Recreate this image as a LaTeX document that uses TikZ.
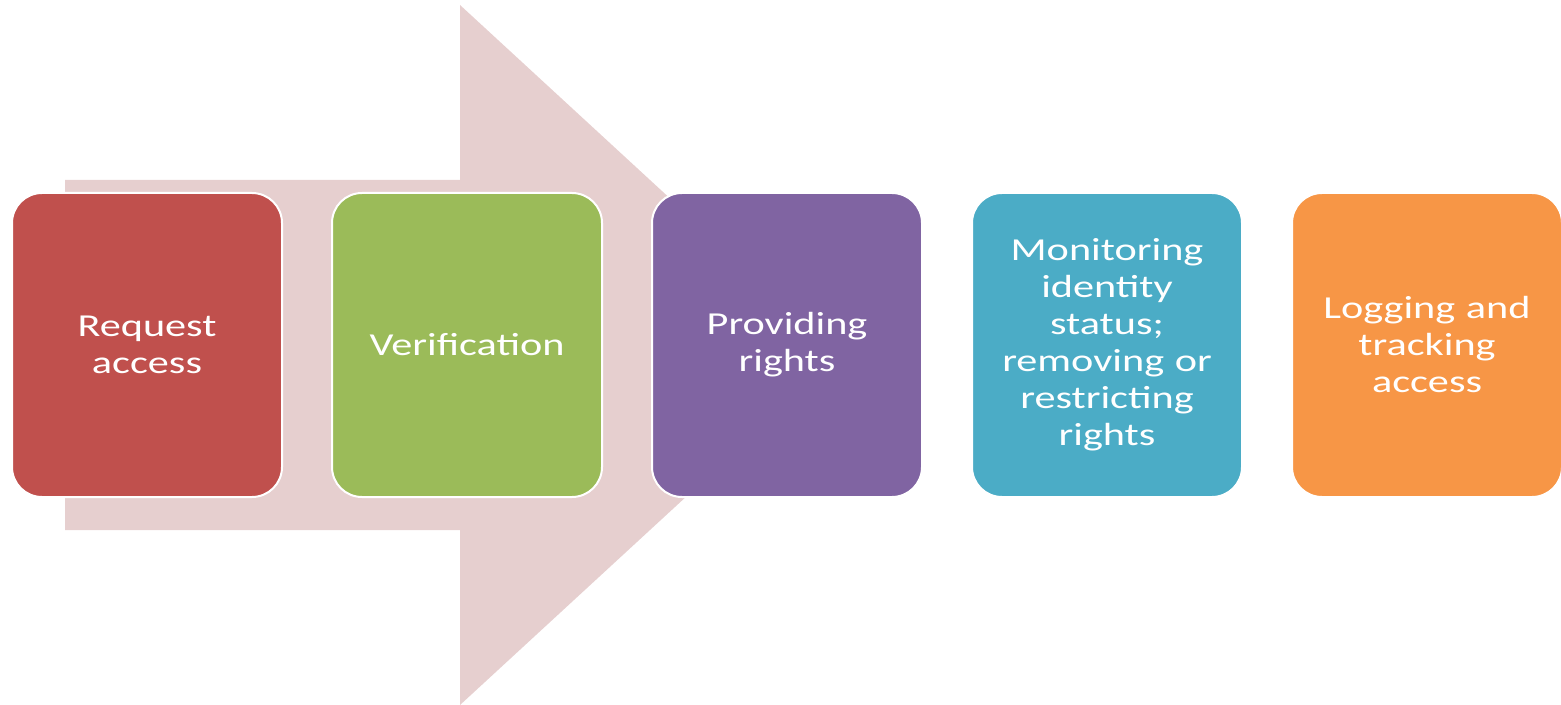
\documentclass[tikz,border=0pt]{standalone}
\usepackage{fontspec}
\setmainfont{Carlito}[FakeStretch=1.32]
\usepackage{tikz}
\usetikzlibrary{positioning,backgrounds}
\definecolor{ACRed}{HTML}{C0504D}
\definecolor{ACGreen}{HTML}{9BBB59}
\definecolor{ACPurple}{HTML}{8064A2}
\definecolor{ACBlue}{HTML}{4BACC6}
\definecolor{ACOrange}{HTML}{F79646}
\definecolor{ACArrow}{HTML}{E6CFCF}
\tikzset{
  acbox/.style={
    rectangle,
    rounded corners=15pt,
    draw=white,
    line width=1pt,
    text=white,
    align=center,
    inner sep=4pt,
    font=\fontsize{16}{18.5}\selectfont,
    minimum width=135pt,
    minimum height=152pt,
    text width=127pt
  },
  acred/.style={acbox,fill=ACRed},
  acgreen/.style={acbox,fill=ACGreen},
  acpurple/.style={acbox,fill=ACPurple},
  acblue/.style={acbox,fill=ACBlue},
  acorange/.style={acbox,fill=ACOrange},
}

\begin{document}
\begin{tikzpicture}[x=0.5pt,y=-0.5pt,node distance=24pt]
  \useasboundingbox (0,0) rectangle (1561,705);

  \node[acred,anchor=north west] (request) at (11,192) {Request\\access};
  \node[acgreen,right=of request] (verify) {Verification};
  \node[acpurple,right=of verify] (provide) {Providing\\rights};
  \node[acblue,right=of provide] (monitor)
    {Monitoring\\identity\\status;\\removing or\\restricting\\rights};
  \node[acorange,right=of monitor] (logging) {Logging and\\tracking\\access};

  % big process arrow behind the boxes
  \begin{scope}[on background layer]
    \fill[ACArrow] (65,180) -- (460,180) -- (460,5) -- (840,355)
      -- (460,705) -- (460,530) -- (65,530) -- cycle;
  \end{scope}
\end{tikzpicture}
\end{document}
